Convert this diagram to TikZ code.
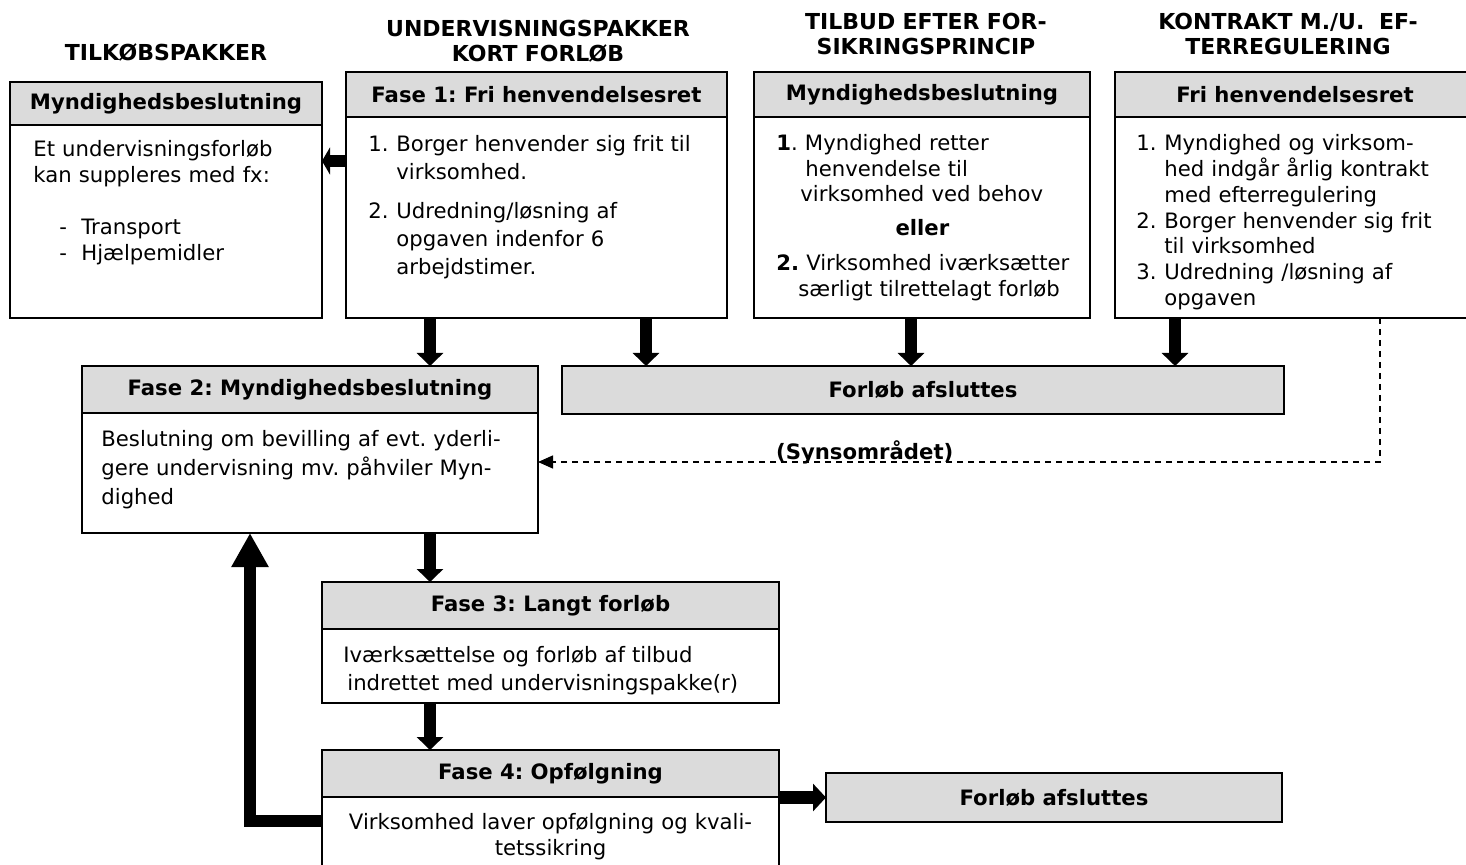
\documentclass[tikz,border=0pt]{standalone}
\usepackage{fontspec}
\setmainfont{DejaVu Sans}
\usetikzlibrary{arrows.meta,positioning}
\definecolor{hdrgray}{gray}{0.86}
\newcommand\txtsize[1]{\fontsize{10.6}{#1}\selectfont}
\frenchspacing

\begin{document}
\begin{tikzpicture}[x=0.5pt, y=-0.5pt,
  hdr/.style={rectangle, draw=black, fill=hdrgray, line width=0.9pt, outer sep=0pt, inner sep=0pt, font=\txtsize{13}\bfseries},
  body/.style={rectangle, draw=black, fill=white, line width=0.9pt, outer sep=0pt, inner sep=0pt},
  txt/.style={inner sep=0pt, anchor=base west, align=left, text width=300pt},
  title/.style={inner sep=0pt, anchor=base, align=center, text width=180pt, font=\fontsize{11}{12.5}\selectfont\bfseries},
  fat/.style={-{Triangle[length=6.5pt, width=13pt]}, line width=6.25pt},
  back/.style={-{Triangle[length=7.5pt, width=6.5pt]}, line width=0.7pt, dash pattern=on 3pt off 2.5pt}
]
\useasboundingbox (0,0) rectangle (1466,865);

% titles
\node[title] (tt1) at (166,61) {TILKØBSPAKKER};
\node[title] (tt2) at (538,37) {UNDERVISNINGSPAKKER\\KORT FORLØB};
\node[title] (tt3) at (926,30) {TILBUD EFTER FOR-\\SIKRINGSPRINCIP};
\node[title] (tt4) at (1288,30) {KONTRAKT M./U.~~EF-\\TERREGULERING};

% top row
\node[hdr, minimum width=156pt, minimum height=21.5pt] (hA) at (166,103.5) {Myndighedsbeslutning};
\node[body, minimum width=156pt, minimum height=96.5pt, below=0pt of hA] (bA) {};
\node[hdr, minimum width=190.5pt, minimum height=22.5pt] (hB) at (536.5,94.5) {Fase 1: Fri henvendelsesret};
\node[body, minimum width=190.5pt, minimum height=100.5pt, below=0pt of hB] (bB) {};
\node[hdr, minimum width=168pt, minimum height=22.5pt] (hC) at (922,94.5) {Myndighedsbeslutning};
\node[body, minimum width=168pt, minimum height=100.5pt, below=0pt of hC] (bC) {};
\node[hdr, minimum width=180pt, minimum height=22.5pt] (hD) at (1295,94.5) {Fri henvendelsesret};
\node[body, minimum width=180pt, minimum height=100.5pt, below=0pt of hD] (bD) {};

\node[txt, font=\txtsize{13}] (xA) at (33,157) {Et undervisningsforløb\\
kan suppleres med fx:\\[13pt]
\hspace*{13pt}\makebox[11pt][l]{-}Transport\\
\hspace*{13pt}\makebox[11pt][l]{-}Hjælpemidler};
\node[txt, font=\txtsize{14}] (xB) at (368,152) {\makebox[14pt][l]{1.}Borger henvender sig frit til\\
\hspace*{14pt}virksomhed.\\[5.5pt]
\makebox[14pt][l]{2.}Udredning/løsning af\\
\hspace*{14pt}opgaven indenfor 6\\
\hspace*{14pt}arbejdstimer.};
\node[txt, font=\txtsize{12.75}] (xC) at (776,151) {\textbf{1}. Myndighed retter\\
\hspace*{14.5pt}henvendelse til\\
\hspace*{12pt}virksomhed ved behov\\[4pt]
\makebox[146pt]{\textbf{eller}}\\[5pt]
\textbf{2.} Virksomhed iværksætter\\
\hspace*{11pt}særligt tilrettelagt forløb};
\node[txt, font=\txtsize{12.85}] (xD) at (1136,151) {\makebox[14pt][l]{1.}Myndighed og virksom-\\
\hspace*{14pt}hed indgår årlig kontrakt\\
\hspace*{14pt}med efterregulering\\
\makebox[14pt][l]{2.}Borger henvender sig frit\\
\hspace*{14pt}til virksomhed\\
\makebox[14pt][l]{3.}Udredning /løsning af\\
\hspace*{14pt}opgaven};

% middle and lower rows
\node[hdr, minimum width=361pt, minimum height=24pt] (end1) at (923,390) {Forløb afsluttes};
\node[hdr, minimum width=228pt, minimum height=23.5pt] (h2) at (310,389.5) {Fase 2: Myndighedsbeslutning};
\node[body, minimum width=228pt, minimum height=60pt, below=0pt of h2] (b2) {};
\node[hdr, minimum width=228.5pt, minimum height=23.5pt] (h3) at (550.5,605.5) {Fase 3: Langt forløb};
\node[body, minimum width=228.5pt, minimum height=37pt, below=0pt of h3] (b3) {};
\node[hdr, minimum width=228.5pt, minimum height=23.5pt] (h4) at (550.5,773.5) {Fase 4: Opfølgning};
\node[body, minimum width=228.5pt, minimum height=36.5pt, below=0pt of h4] (b4) {};
\node[hdr, minimum width=228pt, minimum height=24.5pt] (end2) at (1054,797.5) {Forløb afsluttes};

\node[txt, font=\txtsize{14.5}] (x2) at (101,447) {Beslutning om bevilling af evt. yderli-\\
gere undervisning mv. påhviler Myn-\\
dighed};
\node[txt, font=\txtsize{14}] (x3) at (343,662) {Iværksættelse og forløb af tilbud\\
\hspace*{2pt}indrettet med undervisningspakke(r)};
\node[txt, anchor=base, align=center, text width=228pt, font=\txtsize{13}] (x4) at (550.5,829) {Virksomhed laver opfølgning og kvali-\\
tetssikring};

% arrow columns and rows
\coordinate (c0) at (250,0);
\coordinate (c1) at (430,0);
\coordinate (c2) at (646,0);
\coordinate (c3) at (911,0);
\coordinate (c4) at (1175,0);
\coordinate (c5) at (1380,0);
\coordinate (r1) at (0,161);
\coordinate (r2) at (0,821);
\coordinate (r3) at (0,462);

\draw[fat, -{Triangle[length=4pt, width=13.5pt]}] (bB.west |- r1) -- (bA.east |- r1);
\draw[fat] (bB.south -| c1) -- (h2.north -| c1);
\draw[fat] (bB.south -| c2) -- (end1.north -| c2);
\draw[fat] (bC.south -| c3) -- (end1.north -| c3);
\draw[fat] (bD.south -| c4) -- (end1.north -| c4);
\draw[fat] (b2.south -| c1) -- (h3.north -| c1);
\draw[fat] (b3.south -| c1) -- (h4.north -| c1);
\draw[fat, -{Triangle[length=17pt, width=17.5pt]}, line join=miter] (b4.west |- r2) -| (b2.south -| c0);
\draw[fat, -{Triangle[length=6.5pt, width=13.5pt]}] (end2.west -| h4.east) -- (end2.west);
\draw[back] (bD.south -| c5) -- (c5 |- r3) -- node[pos=0.612, above=-4.5pt, font=\txtsize{13}\bfseries] {(Synsområdet)} (b2.east |- r3);
\end{tikzpicture}
\end{document}
